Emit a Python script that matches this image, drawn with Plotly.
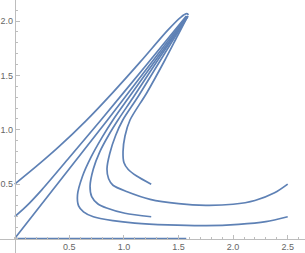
import plotly.graph_objects as go
import numpy as np

# Curves (x, y)
curve_a_x = [0.0, 0.20, 0.40, 0.65, 0.90, 1.15, 1.40, 1.52, 1.575, 1.592]
curve_a_y = [0.5, 0.665, 0.84, 1.08, 1.345, 1.625, 1.915, 2.035, 2.068, 2.058]

curve_b_x = [0.0, 0.10, 0.25, 0.50, 0.79, 1.20, 1.572]
curve_b_y = [0.2, 0.29, 0.45, 0.745, 1.09, 1.59, 2.047]

curve_c_x = [0.0, 0.85, 1.577]
curve_c_y = [0.0, 1.09, 2.045]

u1_x = [1.585, 1.29, 1.04, 0.90, 0.80, 0.70, 0.62, 0.575, 0.585, 0.63, 0.72, 0.90, 1.10, 1.40, 1.75, 2.05, 2.30, 2.50]
u1_y = [2.045, 1.64, 1.29, 1.09, 0.93, 0.75, 0.57, 0.40, 0.30, 0.245, 0.20, 0.165, 0.142, 0.125, 0.118, 0.13, 0.155, 0.20]

u2_x = [1.585, 1.31, 1.08, 0.946, 0.86, 0.78, 0.72, 0.69, 0.705, 0.76, 0.842, 1.01, 1.25]
u2_y = [2.045, 1.64, 1.29, 1.09, 0.95, 0.80, 0.64, 0.48, 0.385, 0.32, 0.28, 0.232, 0.20]

u3_x = [1.585, 1.335, 1.12, 0.99, 0.925, 0.87, 0.845, 0.86, 0.90, 1.03, 1.24, 1.50, 1.75, 2.00, 2.20, 2.38, 2.50]
u3_y = [2.045, 1.64, 1.29, 1.09, 0.95, 0.78, 0.64, 0.55, 0.49, 0.43, 0.36, 0.32, 0.305, 0.315, 0.35, 0.42, 0.50]

u4_x = [1.585, 1.495, 1.376, 1.209, 1.056, 1.01, 0.992, 1.0, 1.04, 1.117, 1.25]
u4_y = [2.045, 1.872, 1.642, 1.339, 1.09, 0.943, 0.80, 0.70, 0.635, 0.575, 0.50]

base_x = [0.0, 1.571]
base_y = [0.0, 0.0]

x_tick_vals = [0.5, 1.0, 1.5, 2.0, 2.5]
x_tick_text = ["0.5", "1.0", "1.5", "2.0", "2.5"]
y_tick_vals = [0.5, 1.0, 1.5, 2.0]
y_tick_text = ["0.5", "1.0", "1.5", "2.0"]

color = "#5e81b5"
fig = go.Figure()
for xs, ys in [(base_x, base_y), (curve_a_x, curve_a_y), (curve_b_x, curve_b_y),
               (curve_c_x, curve_c_y), (u1_x, u1_y), (u2_x, u2_y), (u3_x, u3_y), (u4_x, u4_y)]:
    fig.add_trace(go.Scatter(x=xs, y=ys, mode="lines",
                             line=dict(color=color, width=1.7, shape="spline", smoothing=0.8),
                             showlegend=False, hoverinfo="skip"))

W, H = 305, 253
x0px, y0px = 14.7, 238.5
sx, sy = 109.2, 108.7
xr = [-x0px / sx, (W - x0px) / sx]
yr = [(y0px - H) / sy, y0px / sy]

axis_common = dict(showgrid=False, zeroline=False, showline=True, linecolor="#bdbdbd",
                   linewidth=1, ticks="inside", ticklen=4, tickcolor="#bdbdbd",
                   tickfont=dict(family="Liberation Sans, Arial, sans-serif", size=9, color="#666666"),
                   anchor="free")

fig.update_layout(
    width=W, height=H, margin=dict(l=0, r=0, t=0, b=0),
    paper_bgcolor="white", plot_bgcolor="white",
    xaxis=dict(range=xr, tickmode="array", tickvals=x_tick_vals, ticktext=x_tick_text,
               position=(H - y0px) / H, side="bottom",
               minor=dict(tickmode="array", tickvals=list(np.round(np.arange(0, 2.7, 0.1), 2)),
                          ticks="inside", ticklen=2, tickcolor="#bdbdbd"),
               **axis_common),
    yaxis=dict(range=yr, tickmode="array", tickvals=y_tick_vals, ticktext=y_tick_text,
               position=x0px / W, side="left",
               minor=dict(tickmode="array", tickvals=list(np.round(np.arange(0, 2.2, 0.1), 2)),
                          ticks="inside", ticklen=2, tickcolor="#bdbdbd"),
               **axis_common),
)

fig.write_html("out.html", config={"displayModeBar": False, "staticPlot": True},
               post_script="document.body.style.margin='0';document.body.style.overflow='hidden';")
